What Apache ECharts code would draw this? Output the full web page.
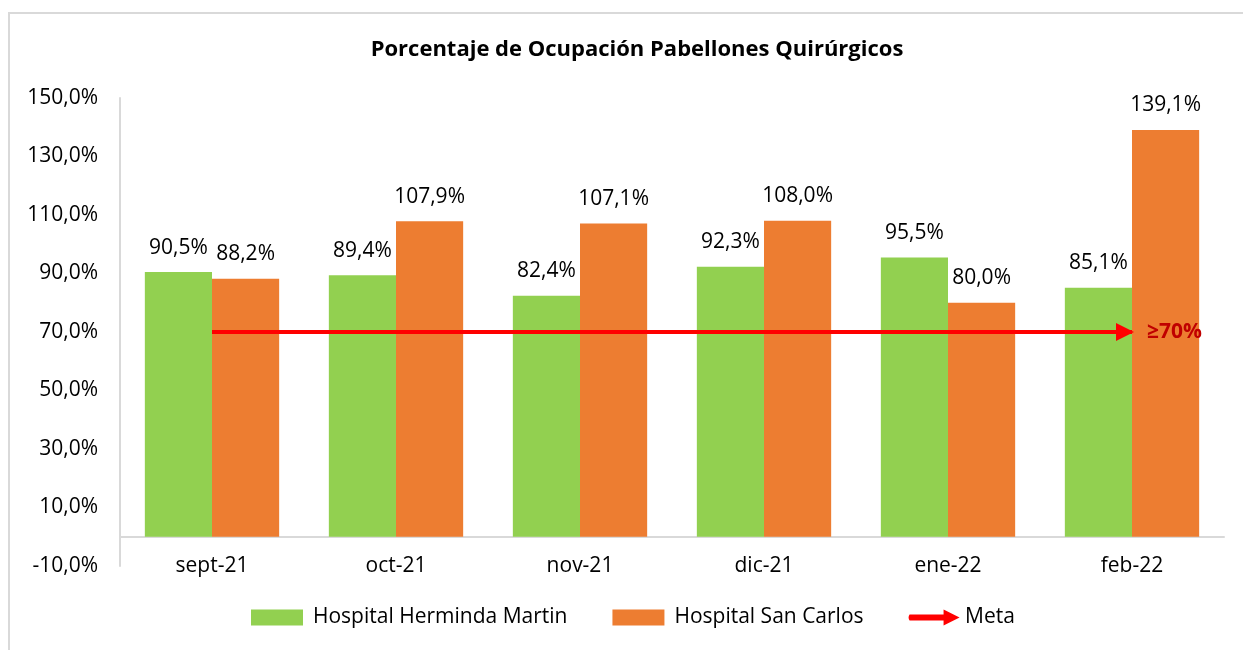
<!DOCTYPE html>
<html>
<head>
<meta charset="utf-8">
<script src="https://cdn.jsdelivr.net/npm/echarts@6/dist/echarts.min.js"></script>
<style>
  html, body { margin: 0; padding: 0; background: #fff; }
  #main { width: 1243px; height: 650px; }
</style>
</head>
<body>
<div id="main"></div>
<script>
var months = ['sept-21', 'oct-21', 'nov-21', 'dic-21', 'ene-22', 'feb-22'];
var hermindaMartin = [90.5, 89.4, 82.4, 92.3, 95.5, 85.1];
var sanCarlos = [88.2, 107.9, 107.1, 108.0, 80.0, 139.1];
var meta = [70, 70, 70, 70, 70, 70];
var metaLabel = '≥70%';

var FONT = 'Open Sans';

// numero con coma decimal
function pct(v) {
    return v.toFixed(1).replace('.', ',') + '%';
}

var metaData = meta.map(function (v, i) {
    if (i === meta.length - 1) {
        return {
            value: v,
            symbol: 'triangle',
            symbolSize: [18, 18],
            symbolRotate: -90,
            symbolOffset: [-7, 0],
            label: {
                show: true,
                position: 'right',
                distance: 13,
                formatter: metaLabel,
                color: '#C00000',
                fontWeight: 'bold',
                fontSize: 21,
                fontFamily: FONT
            }
        };
    }
    return { value: v, symbol: 'none' };
});

var myChart = echarts.init(document.getElementById('main'));
myChart.setOption({
    animation: false,
    backgroundColor: '#fff',
    textStyle: { fontFamily: FONT },
    graphic: [{
        type: 'rect',
        shape: { x: 9, y: 13, width: 1260, height: 660 },
        style: { fill: 'none', stroke: '#D9D9D9', lineWidth: 2 },
        silent: true
    }],
    title: {
        text: 'Porcentaje de Ocupación Pabellones Quirúrgicos',
        left: 632,
        textAlign: 'center',
        top: 34,
        textStyle: { fontSize: 22, fontWeight: 'bold', color: '#000', fontFamily: FONT }
    },
    legend: {
        bottom: 17,
        left: 246,
        itemWidth: 52,
        itemHeight: 16,
        itemGap: 45,
        textStyle: { fontSize: 21, color: '#000', fontFamily: FONT, padding: [0, 0, 0, 5] },
        data: [
            { name: 'Hospital Herminda Martin', icon: 'rect' },
            { name: 'Hospital San Carlos', icon: 'rect' },
            {
                name: 'Meta',
                icon: 'path://M2,5 L36,5 L36,0 L52,8 L36,16 L36,11 L2,11 Q0,8 2,5 Z',
                textStyle: { padding: [0, 0, 0, 0] }
            }
        ]
    },
    grid: { left: 120, right: 19, top: 98, bottom: 84 },
    xAxis: {
        type: 'category',
        data: months,
        axisLine: { onZero: true, lineStyle: { color: '#D9D9D9', width: 2 } },
        axisTick: { show: false },
        axisLabel: { margin: -10, fontSize: 21, color: '#000', fontFamily: FONT }
    },
    yAxis: {
        type: 'value',
        min: -10,
        max: 150,
        interval: 20,
        axisLine: { show: true, lineStyle: { color: '#D9D9D9', width: 2 } },
        axisTick: { show: false },
        splitLine: { show: false },
        axisLabel: {
            margin: 22,
            fontSize: 21,
            color: '#000',
            fontFamily: FONT,
            formatter: function (v) { return pct(v); }
        }
    },
    series: [
        {
            name: 'Hospital Herminda Martin',
            type: 'bar',
            data: hermindaMartin,
            barGap: '0%',
            barCategoryGap: '27%',
            itemStyle: { color: '#92D050' },
            label: {
                show: true, position: 'top', distance: 14,
                fontSize: 21, color: '#000', fontFamily: FONT,
                formatter: function (p) { return pct(p.value); }
            }
        },
        {
            name: 'Hospital San Carlos',
            type: 'bar',
            data: sanCarlos,
            itemStyle: { color: '#ED7D31' },
            label: {
                show: true, position: 'top', distance: 14,
                fontSize: 21, color: '#000', fontFamily: FONT,
                formatter: function (p) { return pct(p.value); }
            }
        },
        {
            name: 'Meta',
            type: 'line',
            data: metaData,
            z: 5,
            showAllSymbol: true,
            lineStyle: { color: '#FF0000', width: 4 },
            itemStyle: { color: '#FF0000' }
        }
    ]
});
</script>
</body>
</html>
